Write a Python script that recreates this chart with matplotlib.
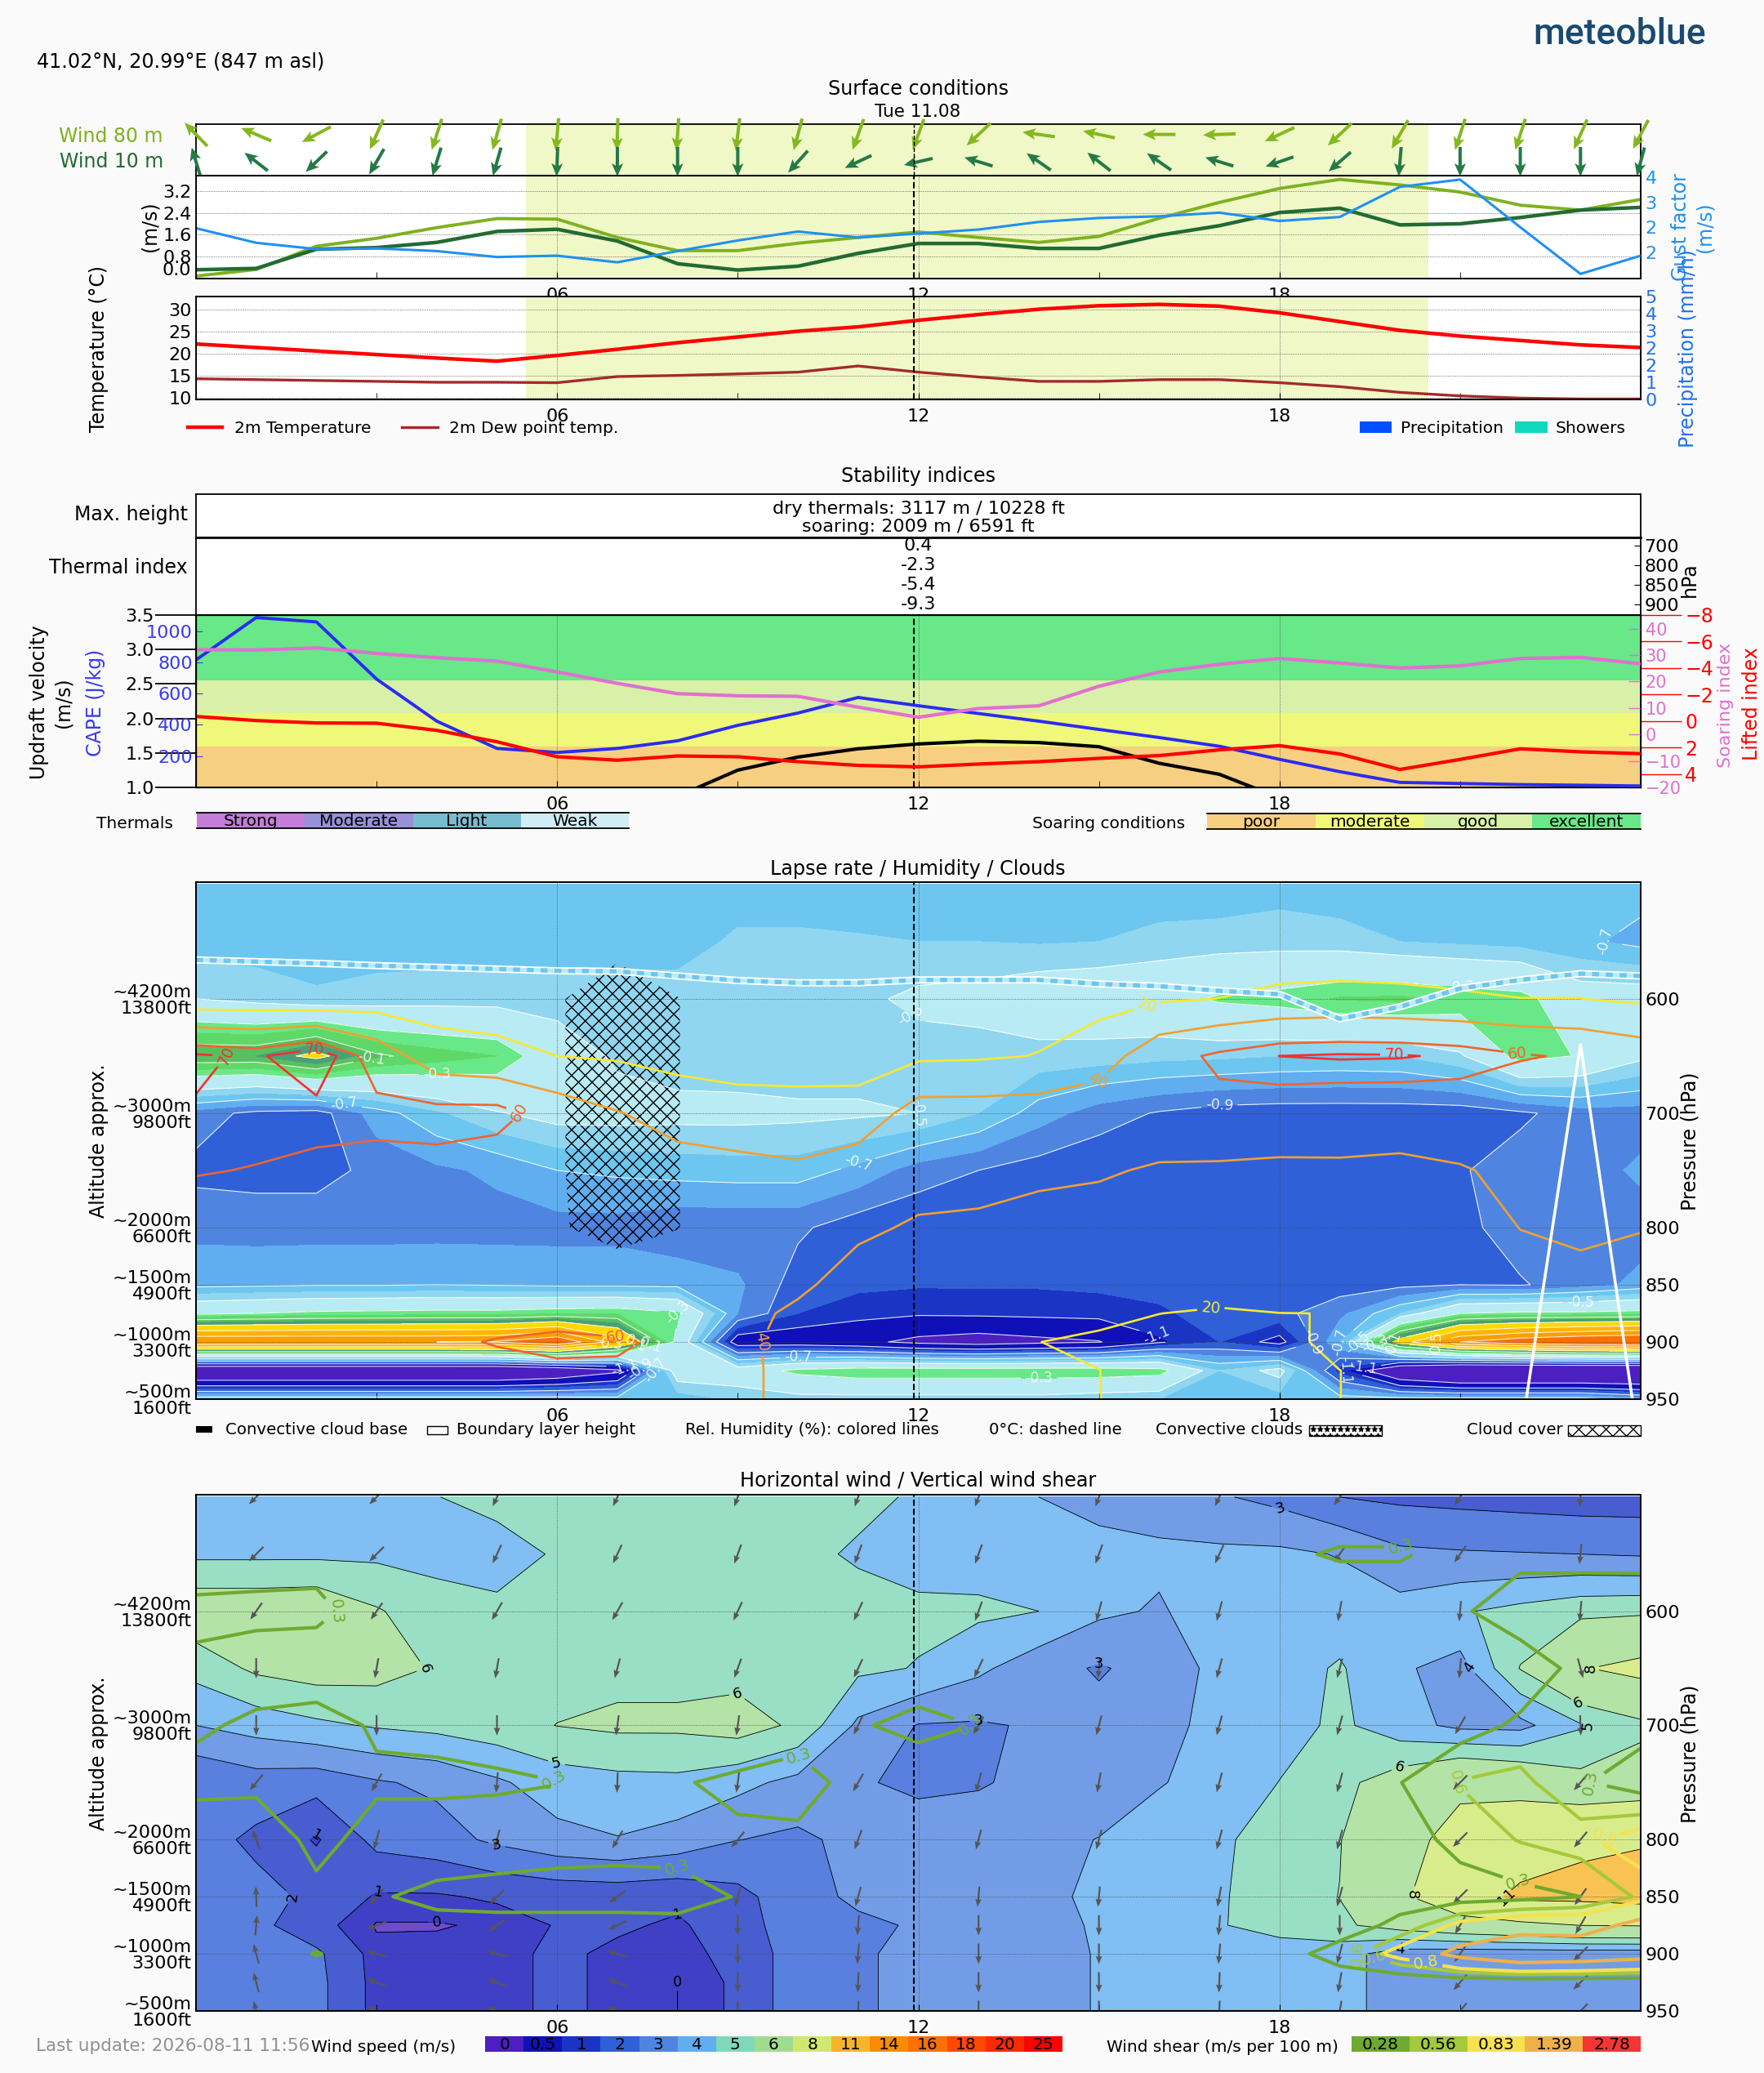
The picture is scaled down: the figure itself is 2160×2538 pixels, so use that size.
import numpy as np
import matplotlib
matplotlib.use('Agg')
import matplotlib.pyplot as plt
from matplotlib.patches import Rectangle

W, H = 2160, 2538
plt.rc('font', size=16)
plt.rc('hatch', linewidth=1.0)

hours = np.arange(25)
plev = [500, 550, 600, 650, 700, 750, 800, 850, 875, 900, 925, 950]
now = 11.93
day_start, day_end = 5.48, 20.47

wind80_dir = [134, 157, 208, 246, 252, 254, 265, 268, 266, 263, 255, 250, 250, 223, 172, 168, 180, 182, 205, 223, 240, 252, 252, 246, 242]
wind10_dir = [107, 142, 224, 240, 253, 254, 268, 270, 270, 270, 228, 205, 193, 163, 145, 142, 145, 163, 199, 221, 265, 270, 270, 270, 255]
wind80 = [.09, .33, 1.18, 1.47, 1.86, 2.19, 2.17, 1.5, 1.02, 1.02, 1.29, 1.5, 1.7, 1.5, 1.32, 1.54, 2.2, 2.78, 3.29, 3.62, 3.42, 3.16, 2.68, 2.5, 2.89]
wind10 = [.32, .37, 1.07, 1.13, 1.32, 1.72, 1.8, 1.37, .54, .31, .45, .92, 1.28, 1.28, 1.1, 1.1, 1.58, 1.93, 2.41, 2.57, 1.96, 2.0, 2.23, 2.5, 2.6]
gust = [2.47, 2.03, 1.84, 1.86, 1.78, 1.6, 1.64, 1.44, 1.78, 2.1, 2.37, 2.19, 2.31, 2.43, 2.66, 2.78, 2.83, 2.94, 2.69, 2.81, 3.72, 3.94, 2.5, 1.09, 1.64]
temp = [22.2, 21.4, 20.6, 19.8, 19, 18.3, 19.6, 21, 22.5, 23.8, 25.1, 26.1, 27.6, 28.9, 30.1, 30.9, 31.2, 30.8, 29.3, 27.3, 25.3, 24, 23, 22, 21.4]
dewpoint = [14.3, 14.1, 13.9, 13.7, 13.5, 13.5, 13.4, 14.8, 15.05, 15.4, 15.8, 17.2, 15.8, 14.7, 13.7, 13.7, 14.1, 14.1, 13.4, 12.5, 11.2, 10.4, 9.9, 9.7, 9.7]

cape = [817, 1089, 1061, 694, 424, 249, 223, 249, 298, 397, 476, 576, 523, 473, 424, 371, 319, 263, 179, 100, 31, 24, 17, 13, 8]
soaring = [32, 31.9, 32.7, 30.6, 29, 27.7, 23.6, 19.3, 15.4, 14.6, 14.4, 10.3, 6.5, 9.8, 10.8, 18.2, 23.6, 26.5, 28.7, 27, 25.1, 25.9, 28.7, 29.1, 26.7]
lifted = [-.35, -.04, .14, .16, .7, 1.56, 2.69, 2.95, 2.63, 2.69, 3.06, 3.34, 3.45, 3.24, 3.06, 2.81, 2.6, 2.17, 1.85, 2.48, 3.65, 2.89, 2.09, 2.32, 2.46]
updraft = [.5, .5, .5, .5, .5, .5, .5, .5, .87, 1.25, 1.44, 1.56, 1.63, 1.67, 1.65, 1.59, 1.35, 1.19, .85, .5, .5, .5, .5, .5, .5]
thermal_index = ['0.4', '-2.3', '-5.4', '-9.3']
thermal_hpa = ['700', '800', '850', '900']
soaring_edges = [1.0, 1.587, 2.083, 2.55, 3.5]
soaring_colors = ['#f7cf80', '#f0f87a', '#d8f0a8', '#68e888']
soaring_names = ['poor', 'moderate', 'good', 'excellent']
thermal_names = ['Strong', 'Moderate', 'Light', 'Weak']
thermal_colors = ['#c47dd8', '#9890d8', '#78bcd0', '#d0ecf4']

# lapse rate, one row per pressure level
lapse = [
    [-.66] * 18 + [-.64] + [-.66] * 6,
    [-.65] * 9 + [-.58, -.58, -.59, -.6, -.6, -.61, -.6, -.57, -.56, -.55, -.56, -.6, -.62, -.64, -.68, -.73],
    [-.5, -.54, -.585, -.56, -.55, -.55, -.55, -.55, -.55, -.55, -.55, -.53, -.47, -.45, -.4, -.38, -.36, -.28, -.25, -.19, -.18, -.22, -.25, -.42, -.42],
    [0, 0, .15, -.08, -.15, -.2, -.42, -.52, -.56, -.57, -.59, -.56, -.55, -.55, -.54, -.55, -.57, -.58, -.6, -.61, -.6, -.52, -.24, -.31, -.47],
    [-.85, -.93, -.95, -.75, -.62, -.51, -.45, -.45, -.46, -.46, -.47, -.48, -.5, -.6, -.75, -.85, -.91, -.95, -.96, -.96, -.96, -.96, -.92, -.85, -.85],
    [-.93, -.94, -.94, -.87, -.82, -.78, -.7, -.68, -.66, -.65, -.65, -.73, -.85, -.9, -.95, -.98, -.99, -.99, -.99, -.99, -.99, -.91, -.85, -.85, -.78],
    [-.83, -.84, -.84, -.84, -.84, -.84, -.84, -.84, -.88, -.88, -.88, -.96, -.98, -.98, -.98, -.98, -.98, -.98, -.98, -.98, -.98, -.93, -.85, -.82, -.85],
    [-.73, -.72, -.71, -.71, -.7, -.71, -.72, -.72, -.73, -.78, -.95, -.98, -.99, -.99, -.99, -.98, -.96, -.95, -.95, -.95, -.93, -.9, -.91, -.85, -.77],
    [-.33, -.3, -.27, -.26, -.25, -.25, -.22, -.21, -.28, -.8, -1.0, -1.05, -1.08, -1.07, -1.06, -1.05, -1.02, -.95, -.93, -.83, -.6, -.3, -.27, -.27, -.25],
    [.7, .7, .7, .7, .7, .72, .9, .4, -.35, -1.2, -1.2, -1.25, -1.35, -1.4, -1.35, -1.31, -1.12, -1.0, -1.15, -.7, .2, .7, .85, .95, 1.0],
    [-1.65] * 6 + [-1.55, -1.35, -.4, -.4, -.26, -.21, -.21, -.21, -.21, -.21, -.24, -.6, -.45, -1.05, -1.6, -1.8, -1.8, -1.8, -1.8],
    [-.62] * 7 + [-.65, -.66, -.58, -.55, -.55, -.55, -.55, -.55, -.58, -.6, -.65, -.65, -.65, -.65, -.65, -.65, -.65, -.75],
]
lapse_levels = [-3, -1.3, -1.1, -1.0, -.9, -.8, -.7, -.6, -.5, -.3, -.2, -.1, 0, .1, .3, .5, .7, 3]
lapse_colors = ['#4b1fc0', '#1010b8', '#1a35c4', '#3060d8', '#4f85e0', '#60aef0', '#6cc6f0', '#90d6f0', '#b8ebf4',
                '#68e888', '#60d868', '#58c060', '#4aa078', '#ffd800', '#ffb400', '#fa9f00', '#ff7000']
lapse_lines = [-1.3, -1.1, -.9, -.7, -.5, -.3, -.1, .1, .3, .5, .7]
lapse_labels = [(2.9, 650), (4.0, 650), (2.44, 700), (11, 744), (12, 605), (12.07, 701), (8.0, 874), (10, 914), (14, 937),
                (17, 689), (16, 887), (21, 598), (23.25, 550), (23, 862), (18.7, 900), (19, 900), (19.3, 900), (19.6, 900),
                (19.9, 900), (20.6, 900), (19, 925), (19.4, 925), (6.9, 900), (7.3, 900), (7.5, 900), (7.1, 925), (7.37, 925), (7.63, 925)]

rh = [
    [8] * 25,
    [8] * 18 + [8.6, 9, 9, 9, 8, 8, 8],
    [8, 8, 5, 10, 12, 13, 13, 13, 12, 10, 10, 11, 12, 13, 14, 14, 18, 20.2, 24, 25, 24, 22, 20.2, 20.2, 17],
    [72, 68, 79, 52, 28, 24, 20, 18, 14, 12, 12, 13, 17, 18, 20.5, 30, 53, 63, 70.1, 71.5, 71, 68, 61.5, 58, 51],
    [69, 66, 66, 64.5, 66, 66, 51, 41, 32, 28, 27, 26.5, 49, 49, 50, 53, 52, 55.5, 50, 47, 47, 48, 45, 47, 46],
    [61, 59.3, 56, 55, 55, 50, 47, 45, 48, 46, 43, 52, 47, 48, 44, 42, 38, 37, 37, 38, 37, 39, 43, 44, 43],
    [51, 50, 50, 50, 50, 48, 48, 48, 52, 50, 46, 43, 38, 36, 33, 32, 32, 32, 32, 32, 32, 34, 40.2, 42, 40.5],
    [48, 48, 47, 47, 47, 46, 46, 46, 50, 48, 43, 33, 30, 28, 27, 27, 27, 26, 26, 27, 28, 30, 35, 37, 35],
    [46, 46, 46, 46, 46, 46, 46, 46, 50, 45, 37, 28, 28, 26, 24, 23, 20.1, 18.5, 19.9, 20.1, 24, 28, 30, 30, 30],
    [45, 45, 46, 48, 54, 62, 68, 63, 55, 42, 37, 29, 26, 23, 20.1, 18, 16, 14, 15, 25, 30, 30, 30, 30, 30],
    [47, 47, 47, 48, 49, 50, 54, 57, 50, 43, 36, 28, 25, 24, 24, 20.1, 16, 16, 16, 19.9, 25, 28, 30, 30, 30],
    [48, 48, 48, 48, 48, 48, 48, 48, 50, 43, 36, 28, 26, 25, 24, 20.1, 17, 17, 17, 19.9, 25, 28, 30, 30, 30],
]
rh_levels = [20, 40, 60, 70]
rh_colors = ['#f8e830', '#f0a030', '#f0642d', '#f53030']
rh_labels = [(15.8, 606), (16.85, 866), (15, 677), (9.27, 900), (5.38, 698), (6.98, 891), (21.95, 647), (1.96, 642), (.53, 650), (19.9, 648)]

freezing = [566, 567.5, 569, 571, 572.5, 574, 575.5, 576, 580, 584, 586, 586, 583.5, 583.5, 583.5, 587, 589, 593, 596, 617.5, 607, 591, 583.5, 578, 580]
boundary_layer = [1000] * 22 + [984, 640, 1000]
cloud_h6 = [0, 0, .42, .42, .42, .42, .42, 0, 0, 0, 0, 0]
cloud_h7 = [0, .2, 1, 1, 1, 1, .8, 0, 0, 0, 0, 0]
cloud_h8 = [0, 0, .52, .52, .52, .52, .52, 0, 0, 0, 0, 0]

wind_speed = [
    [4.5, 4.5, 4.5, 4.6, 4.98, 5.3, 5.4, 5.5, 5.5, 5.5, 5.4, 5.2, 4.9, 4.5, 4.0, 3.8, 3.5, 3.1, 2.7, 2.0, 1.8, 1.7, 1.6, 1.5, 1.5],
    [4.8, 4.8, 4.8, 4.8, 4.7, 4.6, 5.1, 5.5, 5.5, 5.5, 5.2, 4.9, 4.6, 4.5, 4.3, 4.2, 4.2, 4.2, 4.2, 3.95, 3.2, 3.1, 3.05, 3.0, 2.9],
    [6.8, 6.8, 6.9, 6.1, 5.4, 5.2, 5.05, 5.5, 5.6, 5.6, 5.5, 5.3, 5.2, 5.2, 5.0, 4.2, 3.9, 4.5, 4.5, 4.5, 4.4, 4.9, 5.3, 5.7, 5.8],
    [5.35, 6.2, 6.5, 6.4, 5.9, 5.5, 5.6, 5.7, 5.7, 5.6, 5.4, 5.2, 4.95, 4.2, 3.4, 2.9, 3.4, 4.3, 4.6, 5.1, 4.15, 3.6, 6.05, 7.9, 8.5],
    [4.0, 4.4, 4.8, 5.1, 5.3, 5.6, 6.02, 6.2, 6.2, 6.5, 5.8, 3.8, 2.95, 2.9, 3.1, 3.35, 3.7, 4.3, 4.6, 5.2, 4.4, 3.75, 3.7, 4.9, 5.7],
    [2.1, 2.55, 2.4, 2.9, 3.2, 3.85, 4.5, 4.7, 4.75, 4.3, 3.7, 3.1, 2.8, 2.9, 3.3, 3.6, 3.95, 4.3, 5.02, 5.7, 6.6, 7.7, 7.3, 6.35, 6.7],
    [2.4, 1.8, .9, 2.3, 2.6, 3.2, 3.7, 3.95, 3.6, 3.02, 2.8, 3.3, 3.5, 3.6, 3.8, 4.02, 4.4, 4.85, 5.4, 5.95, 7.5, 8.5, 9.5, 10.6, 10.8],
    [2.9, 2.3, 1.8, .9, .9, 1.13, 1.3, 1.35, 1.25, 1.7, 2.6, 3.2, 3.4, 3.5, 3.75, 4.2, 4.5, 4.9, 5.5, 6.02, 7.6, 9.7, 11.5, 11.6, 12],
    [2.6, 2.3, 1.3, .45, .45, .6, 1.05, 1.15, .85, 1.6, 2.5, 2.8, 3.1, 3.4, 3.7, 4.1, 4.4, 4.95, 5.3, 5.8, 6.5, 7.1, 7.5, 8.02, 8.1],
    [2.6, 2.5, 2.2, .65, .7, .7, 1.2, .8, .85, 1.15, 2.6, 2.9, 3.2, 3.4, 3.7, 4.05, 4.3, 4.5, 4.6, 4.4, 3.5, 3.4, 3.4, 3.4, 3.4],
    [2.6, 2.5, 2.3, .7, .7, .7, 1.2, .8, .5, 1.15, 2.6, 2.9, 3.2, 3.4, 3.7, 4.05, 4.3, 4.5, 4.6, 4.4, 3.5, 3.4, 3.4, 3.4, 3.4],
    [2.6, 2.5, 2.3, .7, .7, .7, 1.2, .8, .5, 1.15, 2.6, 2.9, 3.2, 3.4, 3.7, 4.05, 4.3, 4.5, 4.6, 4.4, 3.5, 3.4, 3.4, 3.4, 3.4],
]
speed_levels = [0, .5, 1, 2, 3, 4, 5, 6, 8, 11, 14, 16, 18, 20, 25, 40]
speed_names = ['0', '0.5', '1', '2', '3', '4', '5', '6', '8', '11', '14', '16', '18', '20', '25']
speed_colors = ['#4b1fc0', '#1010b8', '#1a35c4', '#3060d8', '#4f85e0', '#60aef0', '#80d8b8', '#a0dc90', '#d0e870',
                '#f8b428', '#f88c00', '#ff7000', '#ff4800', '#ff2800', '#ff0000']
speed_labels = [(3.93, 652), (9.0, 672), (6, 731), (5.0, 804), (2, 788), (1.75, 848), (3.03, 846), (4.0, 867), (8, 857), (8, 916),
                (18, 512), (15.03, 642), (13, 684), (21.15, 649), (23.07, 652), (23, 678), (23.15, 699), (20, 737), (20.2, 848), (21.77, 850), (20, 894)]

shear = [
    [.1] * 25,
    [.15, .15, .15, .12, .12, .12, .12, .12, .12, .12, .12, .12, .12, .12, .12, .12, .12, .12, .25, .33, .33, .2, .2, .2, .2],
    [.36, .38, .4, .1, .08, .08, .08, .08, .08, .08, .08, .08, .08, .08, .08, .08, .08, .08, .1, .1, .1, .25, .5, .5, .5],
    [.25, .145, .05, .05, .05, .05, .05, .05, .05, .05, .05, .05, .05, .1, .05, .05, .05, .05, .05, .05, .05, .05, .1, .4, .4],
    [.25, .36, .47, .25, .2, .15, .1, .1, .1, .1, .1, .26, .42, .29, .1, .1, .1, .1, .1, .1, .15, .15, .36, .4, .4],
    [.41, .4, .47, .36, .38, .35, .305, .2, .28, .35, .48, .14, .02, .1, .1, .1, .1, .1, .1, .2, .29, .62, .69, .33, .15],
    [.05, .02, .42, .15, .1, .12, .18, .2, .22, .26, .21, .1, .1, .1, .1, .1, .1, .1, .1, .1, .15, .4, .62, .75, .95],
    [.05, .05, .2, .27, .38, .42, .42, .42, .38, .29, .1, .1, .1, .1, .1, .1, .1, .1, .1, .1, .15, .15, .2, .3, .65],
    [.05, .05, .1, .1, .206, .2, .2, .2, .245, .2, .1, .1, .1, .1, .1, .1, .1, .1, .1, .12, .39, .9, 1.1, 1.1, 1.6],
    [.05, .05, .32, .1, .1, .1, .1, .1, .1, .1, .1, .1, .1, .1, .1, .1, .1, .1, .15, .45, .95, 1.6, 2.0, 1.9, 1.7],
    [.03] * 19 + [.1, .03, .05, .05, .05, .05],
    [.03] * 25,
]
shear_names = ['0.28', '0.56', '0.83', '1.39', '2.78']
shear_colors = ['#6eaa30', '#a4c93a', '#f5e24e', '#efb04a', '#f53535']
shear_labels = [(2.48, 601), (5.94, 750), (10, 728), (12.9, 692), (8, 816), (20.0, 545), (22, 833), (23.1, 750),
                (20.7, 750), (19.13, 900), (19.54, 900), (23.4, 801), (20.46, 900)]

arrow_hours = [1, 3, 5, 7, 9, 11, 13, 15, 17, 19, 21, 23]
arrow_dir = [
    [225, 225, 245, 245, 250, 250, 250, 250, 245, 235, 235, 265],
    [225, 225, 245, 245, 250, 250, 250, 250, 245, 235, 235, 265],
    [235, 235, 240, 240, 245, 245, 250, 255, 255, 260, 265, 265],
    [270, 260, 260, 255, 250, 245, 245, 265, 255, 255, 265, 285],
    [270, 270, 270, 262, 262, 245, 240, 255, 255, 255, 240, 272],
    [230, 240, 265, 268, 262, 240, 255, 260, 255, 255, 225, 230],
    [110, 255, 255, 240, 230, 250, 255, 255, 255, 255, 225, 230],
    [92, 230, 225, 215, 255, 255, 265, 265, 260, 255, 225, 235],
    [85, 200, 215, 205, 270, 265, 270, 270, 265, 270, 240, 240],
    [105, 165, 165, 165, 270, 265, 270, 270, 265, 255, 235, 225],
    [105, 160, 160, 160, 270, 268, 270, 270, 268, 260, 230, 225],
    [105, 160, 160, 160, 270, 268, 270, 270, 268, 260, 230, 225],
]
alt_ticks = [600, 700, 800, 850, 900, 950]
alt_names = ['~4200m\n13800ft', '~3000m\n9800ft', '~2000m\n6600ft', '~1500m\n4900ft', '~1000m\n3300ft', '~500m\n1600ft']


def panel(left, top, right, bottom):
    ax = fig.add_axes([left / W, 1 - bottom / H, (right - left) / W, (bottom - top) / H])
    ax.set_xlim(0, 24)
    for s in ax.spines.values():
        s.set_linewidth(1.3)
    return ax


def time_axis(ax, grid=True):
    ax.set_xticks([6, 12, 18])
    ax.set_xticklabels(['06', '12', '18'])
    ax.set_xticks([3, 9, 15, 21], minor=True)
    ax.tick_params(axis='x', which='minor', direction='in', length=6)
    ax.tick_params(axis='x', which='major', direction='in', length=6, pad=8)
    if grid:
        ax.grid(True, ls=':', lw=.6, color='#444444')
    ax.axvline(now, color='k', ls='--', lw=1.5, zorder=6)


def height_axes(ax):
    ax.set_ylim(950, 498)
    ax.set_yticks(alt_ticks)
    ax.set_yticklabels(alt_names, multialignment='right', linespacing=1.0)
    ax.tick_params(axis='y', length=0, pad=4)
    right = ax.twinx()
    right.set_ylim(950, 498)
    right.set_yticks(alt_ticks)
    right.tick_params(axis='y', length=0, pad=4)
    for s in right.spines.values():
        s.set_linewidth(1.3)
    return right


def color_strip(left, top, right, bottom, names, colors):
    ax = panel(left, top, right, bottom)
    ax.set_xlim(0, len(names))
    ax.set_ylim(0, 1)
    ax.bar(np.arange(len(names)) + .5, 1, width=1, color=colors)
    for i, name in enumerate(names):
        ax.text(i + .5, .47, name, ha='center', va='center', fontsize=14.5)
    ax.set_xticks([])
    ax.set_yticks([])
    for s in ax.spines.values():
        s.set_visible(False)
    return ax


fig = plt.figure(figsize=(W / 100, H / 100), dpi=100, facecolor='#fafafa')
ov = fig.add_axes([0, 0, 1, 1], zorder=20)
ov.set_xlim(0, W)
ov.set_ylim(H, 0)
ov.axis('off')

# surface conditions
ax = panel(240, 152, 2009, 215)
ax.set_ylim(0, 1)
ax.axvspan(day_start, day_end, color='#f0f8c8', lw=0)
ax.set_xticks([])
ax.set_yticks([])
for d, y, c, n in ((wind80_dir, .80, '#84b81f', 40), (wind10_dir, .27, '#247a45', 36)):
    a = np.deg2rad(d)
    ax.quiver(hours, np.full(25, y), n * np.cos(a), n * np.sin(a), color=c, angles='uv', scale_units='dots', scale=1,
              units='dots', width=4, headwidth=3.5, headlength=4, headaxislength=3.3, pivot='mid', clip_on=False, zorder=5)
ax.axvline(now, color='k', ls='--', lw=1, zorder=6)

ax = panel(240, 215, 2009, 341)
ax.set_ylim(0, 3.76)
ax.axvspan(day_start, day_end, color='#f0f8c8', lw=0)
ax.plot(hours, wind80, color='#7fb11f', lw=2.8)
ax.plot(hours, wind10, color='#226b33', lw=3.2)
ax.set_yticks([0, .8, 1.6, 2.4, 3.2])
ax.set_yticklabels(['0.0', '0.8', '1.6', '2.4', '3.2'])
ax.get_yticklabels()[0].set_va('bottom')
ax.tick_params(axis='y', length=0, pad=4)
time_axis(ax)
tw = ax.twinx()
tw.set_ylim(.95, 4.06)
tw.plot(hours, gust, color='#2090f0', lw=2.2)
tw.set_yticks([1.75, 2.5, 3.25, 4.0])
tw.set_yticklabels(['2', '2', '3', '4'])
tw.tick_params(axis='y', colors='#2090f0', length=0, pad=4)

ax = panel(240, 363, 2009, 489)
ax.set_ylim(9.6, 33)
ax.axvspan(day_start, day_end, color='#f0f8c8', lw=0)
ax.plot(hours, temp, color='#ff0000', lw=3.2)
ax.plot(hours, dewpoint, color='#a52a2a', lw=2.4)
ax.set_yticks([10, 15, 20, 25, 30])
ax.tick_params(axis='y', length=0, pad=4)
time_axis(ax)
tw = ax.twinx()
tw.set_ylim(0, 5)
tw.set_yticks(np.linspace(0, 5, 7))
tw.set_yticklabels(['0', '1', '2', '2', '3', '4', '5'])
tw.tick_params(axis='y', colors='#2070f0', length=0, pad=4)

# stability indices
ax = panel(240, 605, 2009, 658)
ax.set_xticks([])
ax.set_yticks([])
ax.text(12, .66, 'dry thermals: 3117 m / 10228 ft', ha='center', va='center', transform=ax.get_xaxis_transform())
ax.text(12, .24, 'soaring: 2009 m / 6591 ft', ha='center', va='center', transform=ax.get_xaxis_transform())

ax = panel(240, 658, 2009, 753)
ax.set_ylim(3.54, -.42)
ax.set_xticks([])
ax.yaxis.tick_right()
ax.set_yticks(range(4))
ax.set_yticklabels(thermal_hpa)
ax.tick_params(axis='y', direction='in', length=6, pad=3)
for i, t in enumerate(thermal_index):
    ax.text(12, i, t, ha='center', va='center')
ax.spines['top'].set_linewidth(2)

ax = panel(240, 753, 2009, 964)
ax.set_ylim(1, 3.5)
for i, c in enumerate(soaring_colors):
    ax.axhspan(soaring_edges[i], soaring_edges[i + 1], color=c, lw=0)
ax.plot(hours, updraft, color='k', lw=3)
ax.set_yticks([1, 1.5, 2, 2.5, 3, 3.5])
ax.tick_params(axis='y', length=36, width=1.3, pad=1)
time_axis(ax, grid=False)
ax.xaxis.grid(True, ls=':', lw=.6, color='#444444')
tw = ax.twinx()
tw.yaxis.tick_left()
tw.set_ylim(-1, 1105)
tw.plot(hours, cape, color='#2b2bf0', lw=2.8)
tw.set_yticks([200, 400, 600, 800, 1000])
tw.tick_params(axis='y', colors='#3a3af0', direction='in', length=6, pad=3)
tw = ax.twinx()
tw.set_ylim(-19.8, 45.1)
tw.plot(hours, soaring, color='#e070d0', lw=3)
tw.set_yticks([-20, -10, 0, 10, 20, 30, 40])
tw.tick_params(axis='y', colors='#e070d0', direction='in', length=11, width=1, pad=4, labelsize=15)
tw = ax.twinx()
tw.set_ylim(5, -7.98)
tw.plot(hours, lifted, color='#ff0000', lw=3)
tw.set_yticks([-8, -6, -4, -2, 0, 2, 4])
tw.tick_params(axis='y', colors='#ff0000', length=36, width=1, pad=3, labelsize=17)

# lapse rate
ax = panel(240, 1080, 2009, 1713)
cs = ax.contourf(hours, plev, lapse, levels=lapse_levels, colors=lapse_colors)
cl = ax.contour(hours, plev, lapse, levels=lapse_lines, colors='white', linewidths=.8, linestyles='solid', alpha=.85)
ax.clabel(cl, fmt='%.1f', fontsize=12.5, manual=lapse_labels)
cr = ax.contour(hours, plev, rh, levels=rh_levels, colors=rh_colors, linewidths=1.9)
ax.clabel(cr, fmt='%d', fontsize=13.5, manual=rh_labels)
cloud = np.zeros((12, 25))
cloud[:, 6] = cloud_h6
cloud[:, 7] = cloud_h7
cloud[:, 8] = cloud_h8
ax.contourf(hours, plev, cloud, levels=[.5, 2], colors='none', hatches=['xx'])
ax.plot(hours, freezing, color='white', lw=6.5, zorder=4)
ax.plot(hours, freezing, color='#b8ebf4', lw=3.8, zorder=4)
ax.plot(hours, freezing, color='#6cc6f0', lw=3.8, ls=(0, (1.6, 1.6)), zorder=4)
ax.plot(hours, boundary_layer, color='white', lw=2.6, zorder=5)
right = height_axes(ax)
time_axis(ax)

# horizontal wind
ax = panel(240, 1830, 2009, 2462)
ax.contourf(hours, plev, wind_speed, levels=speed_levels, colors=speed_colors, alpha=.8)
cw = ax.contour(hours, plev, wind_speed, levels=speed_levels[:-1], colors='k', linewidths=.6)
ax.clabel(cw, fmt='%.0f', fontsize=13, manual=speed_labels)
a = np.deg2rad(arrow_dir)
xx, yy = np.meshgrid(arrow_hours, plev)
ax.quiver(xx, yy, 25 * np.cos(a), 25 * np.sin(a), color='#555555', angles='uv', scale_units='dots', scale=1, units='dots',
          width=2.2, headwidth=3.5, headlength=4.5, headaxislength=4, pivot='mid', zorder=3)
cs2 = ax.contour(hours, plev, shear, levels=[.3, .6, .8, 1.4, 2.8], colors=shear_colors, linewidths=3, zorder=4)
ax.clabel(cs2, fmt='%.1f', fontsize=14, manual=shear_labels)
right = height_axes(ax)
time_axis(ax)

# colour legends
color_strip(594, 2493, 1301, 2512, speed_names, speed_colors)
color_strip(1655, 2493, 2009, 2512, shear_names, shear_colors)
for left, right_x, top, bottom, names, colors in ((241, 770, 995, 1014, thermal_names, thermal_colors),
                                                  (1478, 2009, 996, 1015, soaring_names, soaring_colors)):
    s = color_strip(left, top, right_x, bottom, names, colors)
    s.spines['top'].set_visible(True)
    s.spines['bottom'].set_visible(True)

# free text and legend keys, in pixel positions
T = ov.text
T(45, 75, '41.02°N, 20.99°E (847 m asl)', va='center', fontsize=17.2)
T(2089, 42, 'meteoblue', ha='right', va='center', fontsize=32, color='#1a4a70', family='Roboto', weight='medium')
for y, s in ((109, 'Surface conditions'), (137, 'Tue 11.08'), (583, 'Stability indices'),
             (1064, 'Lapse rate / Humidity / Clouds'), (1813, 'Horizontal wind / Vertical wind shear')):
    T(1124, y, s, ha='center', va='center', fontsize=17.2 if y != 137 else 15.5)
T(200, 167, 'Wind 80 m', ha='right', va='center', color='#7fb11f', fontsize=17)
T(200, 198, 'Wind 10 m', ha='right', va='center', color='#226b33', fontsize=17)
T(183, 277, '(m/s)', rotation=90, ha='center', va='center', fontsize=17)
T(2058, 278, 'Gust factor', rotation=90, ha='center', va='center', color='#2090f0', fontsize=17)
T(2087, 278, '(m/s)', rotation=90, ha='center', va='center', color='#2090f0', fontsize=17)
T(121, 427, 'Temperature (°C)', rotation=90, ha='center', va='center', fontsize=17)
T(2067, 427, 'Precipitation (mm/h)', rotation=90, ha='center', va='center', color='#2070f0', fontsize=17)
ov.plot([230, 272], [523, 523], color='#ff0000', lw=3.2)
ov.plot([492, 536], [523, 523], color='#a52a2a', lw=2.4)
T(287, 524, '2m Temperature', va='center', fontsize=14.5)
T(550, 524, '2m Dew point temp.', va='center', fontsize=14.5)
ov.add_patch(Rectangle((1665, 516), 39, 14, color='#0050ff', lw=0))
ov.add_patch(Rectangle((1855, 516), 40, 14, color='#10d8c0', lw=0))
T(1715, 524, 'Precipitation', va='center', fontsize=14.5)
T(1905, 524, 'Showers', va='center', fontsize=14.5)
T(230, 630, 'Max. height', ha='right', va='center', fontsize=17)
T(230, 695, 'Thermal index', ha='right', va='center', fontsize=17)
T(2069, 710, 'hPa', rotation=90, ha='center', va='center', fontsize=17)
T(48, 860, 'Updraft velocity', rotation=90, ha='center', va='center', fontsize=17)
T(77, 860, '(m/s)', rotation=90, ha='center', va='center', fontsize=17)
T(117, 860, 'CAPE (J/kg)', rotation=90, ha='center', va='center', color='#3a3af0', fontsize=17)
T(2113, 863, 'Soaring index', rotation=90, ha='center', va='center', color='#e070d0', fontsize=16)
T(2145, 862, 'Lifted index', rotation=90, ha='center', va='center', color='#ff0000', fontsize=17)
T(212, 1008, 'Thermals', ha='right', va='center', fontsize=14.5)
T(1451, 1008, 'Soaring conditions', ha='right', va='center', fontsize=14.5)
for y in (1397, 2147):
    T(121, y, 'Altitude approx.', rotation=90, ha='center', va='center', fontsize=17)
    T(2069, y, 'Pressure (hPa)', rotation=90, ha='center', va='center', fontsize=17)
ov.add_patch(Rectangle((240, 1746), 20, 8, color='k', lw=0))
ov.add_patch(Rectangle((523, 1746), 25, 10, fc='none', ec='k', lw=1))
T(276, 1751, 'Convective cloud base', va='center', fontsize=14.2)
T(559, 1751, 'Boundary layer height', va='center', fontsize=14.2)
T(839, 1751, 'Rel. Humidity (%): colored lines', va='center', fontsize=14.2)
T(1211, 1751, '0°C: dashed line', va='center', fontsize=14.2)
T(1415, 1751, 'Convective clouds', va='center', fontsize=14.2)
ov.add_patch(Rectangle((1603, 1745), 89, 13, fc='white', ec='k', lw=1, hatch='**'))
T(1796, 1751, 'Cloud cover', va='center', fontsize=14.2)
ov.add_patch(Rectangle((1920, 1745), 89, 13, fc='white', ec='k', lw=1, hatch='xx'))
T(44, 2505, 'Last update: 2026-08-11 11:56', va='center', color='#909090', fontsize=15.5)
T(381, 2506, 'Wind speed (m/s)', va='center', fontsize=14.5)
T(1355, 2506, 'Wind shear (m/s per 100 m)', va='center', fontsize=14.5)

fig.savefig('out.png', dpi=100, facecolor=fig.get_facecolor())
